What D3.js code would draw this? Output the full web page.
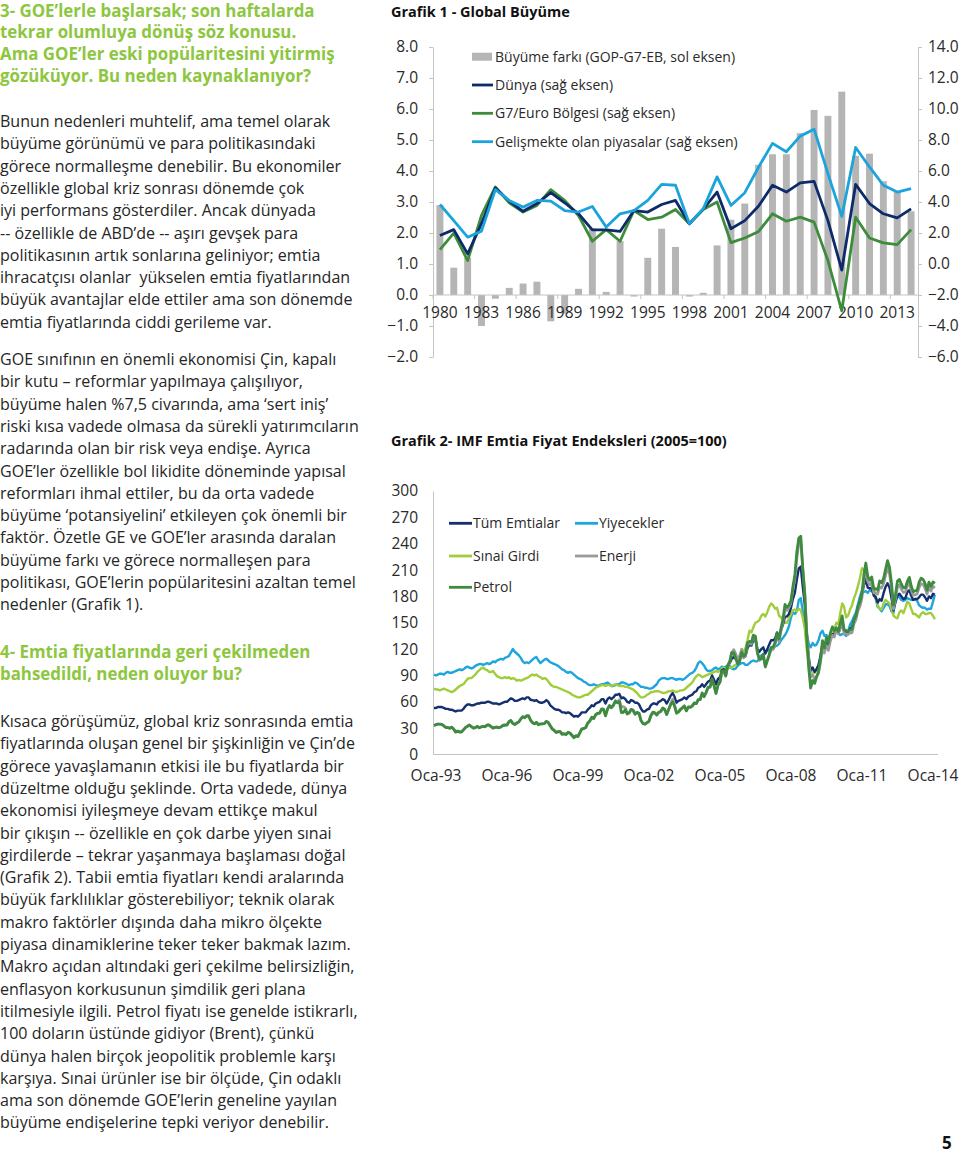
<!DOCTYPE html>
<html><head><meta charset="utf-8">
<script src="https://cdn.jsdelivr.net/npm/d3@7"></script>
<style>body{margin:0;background:#fff}svg{display:block}</style>
</head><body>
<svg id="page" width="960" height="1153"></svg>
<script>
// ---------------- DATA: Grafik 1 ----------------
const years = d3.range(1980, 2015);
const growthGap = [2.9, 0.88, 1.2, -1.0, -0.12, 0.23, 0.37, 0.43, -0.85, -0.6, 0.2, 2.15, 0.1, 1.74, -0.05, 1.2, 2.14, 1.55, -0.05, 0.07, 1.6, 2.43, 2.95, 4.2, 4.54, 4.54, 5.22, 5.97, 5.78, 6.56, 4.49, 4.56, 3.67, 3.34, 2.7];
const world = [1.84, 2.22, 0.65, 2.6, 4.9, 4.06, 3.4, 3.9, 4.6, 3.95, 3.24, 2.2, 2.2, 2.1, 3.45, 3.35, 3.84, 4.1, 2.6, 3.54, 4.64, 2.27, 2.8, 3.74, 5.08, 4.64, 5.23, 5.33, 2.8, -0.39, 5.14, 3.9, 3.24, 2.98, 3.56];
const g7euro = [0.93, 1.99, 0.22, 3.13, 4.97, 3.95, 3.35, 3.78, 4.8, 4.1, 3.13, 1.47, 2.22, 1.47, 3.45, 2.87, 3.02, 3.52, 2.6, 3.52, 4.0, 1.38, 1.68, 2.1, 3.24, 2.76, 3.02, 2.7, 0.22, -3.02, 3.02, 1.68, 1.36, 1.25, 2.22];
const emerging = [3.84, 2.8, 1.73, 2.12, 4.8, 4.1, 3.67, 4.1, 4.06, 3.45, 3.35, 3.71, 2.38, 3.24, 3.45, 4.1, 5.14, 5.08, 2.6, 3.56, 5.62, 3.78, 4.6, 6.26, 7.78, 7.24, 8.25, 8.7, 5.83, 3.07, 7.52, 6.26, 5.08, 4.64, 4.86];
const leftTicks = [-2, -1, 0, 1, 2, 3, 4, 5, 6, 7, 8];
const rightTicks = [-6, -4, -2, 0, 2, 4, 6, 8, 10, 12, 14];
const c1Legend = ["Büyüme farkı (GOP-G7-EB, sol eksen)", "Dünya (sağ eksen)", "G7/Euro Bölgesi (sağ eksen)", "Gelişmekte olan piyasalar (sağ eksen)"];

// ---------------- DATA: Grafik 2 (monthly, Oca-93 .. Mar-14) ----------------
const tumEmtialar = [
53,53,54,54,54,53,52,52,51,51,50,49,
50,50,50,52,55,57,57,56,56,57,58,58,
59,59,59,60,60,59,58,58,58,57,58,59,
60,60,62,64,63,61,61,62,63,64,63,65,
65,62,62,61,62,60,59,59,60,62,60,56,
54,52,51,51,50,48,48,47,48,47,45,43,
44,43,45,48,48,48,51,53,56,55,58,59,
60,63,63,58,63,65,63,65,68,68,69,64,
65,63,60,59,62,61,59,59,57,52,49,49,
51,52,56,58,58,57,60,61,63,62,58,62,
67,70,66,59,61,62,63,65,63,66,67,68,
71,72,76,77,80,77,80,83,84,90,85,80,
86,88,96,97,93,101,104,109,111,109,106,110,
116,111,112,121,125,124,130,131,120,117,120,122,
115,120,125,130,130,132,139,134,142,148,157,157,
160,167,177,184,199,212,214,191,171,137,111,96,
99,94,97,102,112,125,120,128,123,131,137,137,
141,138,143,150,141,139,139,143,145,153,158,167,
174,183,192,200,190,189,190,181,179,173,177,175,
184,191,195,190,178,164,173,181,183,180,177,178,
185,187,181,176,177,177,179,182,182,179,175,180,
178,183,182];
const yiyecekler = [
91,90,91,92,92,91,93,94,93,93,94,95,
96,97,96,97,99,100,99,98,99,101,102,103,
103,102,103,104,103,104,106,105,107,108,109,108,
110,111,112,116,120,117,115,113,110,106,104,105,
104,106,108,110,111,107,104,106,108,109,107,105,
104,103,102,101,99,97,96,94,93,94,93,91,
89,87,86,85,83,82,80,79,79,80,79,78,
79,80,80,81,82,80,78,78,79,80,80,82,
82,81,80,79,80,80,82,81,79,77,77,76,
76,75,75,76,78,80,84,86,87,87,86,86,
87,87,86,85,86,86,85,86,88,90,92,93,
95,99,104,106,104,101,97,95,95,96,98,99,
97,98,100,99,100,101,101,98,97,98,101,103,
104,104,102,102,104,106,107,106,106,109,113,114,
116,118,119,119,120,123,124,126,130,133,136,140,
146,156,162,160,163,176,178,163,154,138,126,122,
127,124,125,130,138,141,135,136,133,134,137,140,
141,138,136,137,137,135,140,148,152,157,162,171,
180,187,185,186,184,187,186,183,177,168,166,163,
167,171,171,169,163,161,180,181,179,176,175,176,
178,177,176,176,177,175,170,168,167,167,165,166,
166,174,182];
const sinaiGirdi = [
75,74,74,73,74,75,74,73,72,71,72,74,
76,78,79,80,83,86,87,87,89,91,94,96,
98,99,97,96,94,94,95,92,89,88,87,87,
88,87,88,86,87,86,84,85,84,85,86,87,
88,90,91,90,91,89,88,86,87,86,83,80,
78,77,77,76,75,74,73,72,71,70,68,67,
66,65,65,66,67,68,68,70,72,74,76,77,
78,79,79,78,79,79,78,79,80,79,78,78,
78,77,77,76,75,74,72,70,67,65,65,66,
68,69,71,71,72,72,72,71,70,70,71,72,
72,73,72,71,72,73,73,74,76,78,80,82,
86,89,91,90,88,89,90,91,92,93,94,95,
94,95,98,99,97,98,99,99,101,102,104,108,
115,118,121,130,141,139,145,150,151,153,158,160,
157,162,168,172,170,166,167,158,156,154,150,150,
155,160,164,165,163,166,164,156,143,120,104,96,
94,93,96,102,108,116,120,128,128,132,138,143,
150,148,160,172,168,156,158,165,170,178,184,192,
201,212,210,212,201,198,198,190,180,170,166,165,
172,176,174,172,166,158,156,155,162,164,161,167,
174,172,166,160,160,158,156,160,162,160,160,161,
161,158,154];
const enerji = [
33.0,34.3,34.6,34.4,34.2,32.8,31.0,30.9,30.1,31.3,29.2,26.2,
27.0,26.2,26.0,28.4,30.7,32.1,33.4,31.8,30.2,30.6,32.0,30.7,
31.5,32.0,31.6,33.5,33.4,31.8,30.3,31.0,31.2,30.7,31.6,33.5,
34.0,33.8,37.0,38.5,35.6,34.4,35.9,37.3,40.3,43.0,42.3,44.6,
44.5,39.2,36.5,35.2,36.7,34.3,35.0,35.2,35.5,37.9,36.6,33.0,
29.5,27.8,25.6,26.4,26.5,23.6,23.9,23.1,25.5,24.6,22.2,19.9,
21.6,20.9,24.6,28.8,29.4,30.5,35.2,37.6,41.8,40.6,44.8,46.5,
47.0,51.0,51.0,44.5,51.8,56.0,53.8,56.6,61.5,60.0,62.5,54.0,
54.5,53.0,47.5,48.0,51.0,49.5,45.5,47.0,46.0,38.5,35.5,34.5,
36.0,37.5,43.5,47.0,47.0,44.5,47.5,48.5,52.0,51.0,45.5,51.0,
58.0,63.0,57.5,47.5,49.0,52.0,53.5,55.5,50.0,54.0,53.5,56.0,
59.0,58.0,62.0,62.5,69.0,65.5,70.0,75.5,76.5,85.5,78.5,70.5,
79.0,82.0,93.5,94.5,89.0,100.5,105.0,116.0,119.5,115.0,108.0,112.5,
120.0,110.0,112.5,125.0,126.5,125.5,133.5,133.0,115.0,107.0,109.0,112.5,
99.5,106.5,112.0,119.5,119.5,125.0,134.0,128.5,140.5,150.5,166.0,164.0,
167.0,172.5,187.0,199.0,222.5,240.0,243.0,212.0,186.0,142.0,108.0,88.0,
91.0,85.0,88.5,92.5,104.0,122.5,115.5,124.5,118.5,129.0,136.0,133.5,
141.5,137.5,144.0,152.5,137.5,137.5,136.5,138.5,138.5,149.0,153.5,163.5,
168.5,178.0,197.0,211.5,196.5,193.0,196.0,184.0,184.5,182.5,191.0,189.5,
194.5,204.0,212.5,205.5,189.0,165.5,176.5,190.5,193.0,188.0,184.5,185.0,
191.5,196.0,187.0,181.0,182.0,182.5,190.0,194.5,193.5,189.0,182.5,190.5,
186.0,191.5,189.5];
const petrol = [
32.6,34.1,34.5,34.5,34.3,32.6,30.7,30.7,29.8,31.1,28.7,25.5,
26.4,25.5,25.5,28.1,30.6,32.2,33.6,31.7,30.0,30.6,32.1,30.4,
31.3,32.1,31.5,33.7,33.6,31.7,30.0,30.9,31.1,30.4,31.3,33.0,
33.2,33.4,37.3,38.8,35.4,34.1,35.8,37.1,40.5,43.1,41.8,43.7,
43.7,38.6,36.2,34.9,36.6,33.9,34.7,34.9,35.1,37.7,36.2,32.4,
28.9,27.2,24.9,25.9,26.1,22.9,23.4,22.5,25.3,24.2,21.6,19.1,
21.2,20.4,24.6,29.2,29.6,30.7,35.8,38.1,42.5,41.0,45.5,47.2,
47.2,51.9,51.7,43.9,51.4,55.5,53.2,55.9,60.7,58.9,60.2,47.8,
48.0,51.0,46.1,47.2,51.4,50.6,46.3,48.0,47.0,38.6,35.1,34.7,
36.4,38.1,44.4,48.2,47.6,45.2,48.2,49.3,53.0,51.5,45.4,51.2,
56.8,59.8,55.3,47.0,48.4,51.0,52.9,55.1,49.7,54.2,53.8,55.1,
58.5,57.9,62.4,62.6,70.1,66.0,70.9,76.7,77.0,86.2,78.0,69.4,
78.9,82.7,94.8,95.4,89.6,101.8,105.9,116.0,115.8,109.3,102.9,105.7,
116.2,111.9,114.2,127.3,128.8,128.0,135.9,134.6,116.4,108.5,108.9,114.2,
100.1,107.0,113.6,122.0,122.0,127.8,137.8,131.6,144.1,154.1,170.8,167.6,
170.0,175.1,190.8,204.5,230.2,246.5,248.5,212.2,181.8,134.2,98.4,75.7,
84.2,81.0,88.1,94.3,108.7,129.7,121.3,133.3,127.5,138.5,145.3,141.0,
144.3,140.0,148.6,157.8,141.7,141.3,139.8,142.1,142.6,153.1,158.0,168.7,
173.8,183.5,203.7,218.0,202.6,198.5,202.2,188.4,188.9,187.3,197.6,195.5,
200.7,211.2,220.8,213.1,195.1,170.0,181.4,197.4,199.3,193.8,189.7,189.7,
197.0,201.7,192.1,185.4,186.3,186.9,196.1,200.6,199.3,194.8,187.1,196.3,
191.4,196.4,194.9];
const c2Ticks = [0, 30, 60, 90, 120, 150, 180, 210, 240, 270, 300];
const c2LabelYears = [1993, 1996, 1999, 2002, 2005, 2008, 2011, 2014];

// ---------------- TEXT ----------------
const heading1 = ["3- GOE’lerle başlarsak; son haftalarda", "tekrar olumluya dönüş söz konusu.", "Ama GOE’ler eski popülaritesini yitirmiş", "gözüküyor. Bu neden kaynaklanıyor?"];
const para1 = ["Bunun nedenleri muhtelif, ama temel olarak", "büyüme görünümü ve para politikasındaki", "görece normalleşme denebilir. Bu ekonomiler", "özellikle global kriz sonrası dönemde çok", "iyi performans gösterdiler. Ancak dünyada", "-- özellikle de ABD’de -- aşırı gevşek para", "politikasının artık sonlarına geliniyor; emtia", "ihracatçısı olanlar  yükselen emtia fiyatlarından", "büyük avantajlar elde ettiler ama son dönemde", "emtia fiyatlarında ciddi gerileme var."];
const para2 = ["GOE sınıfının en önemli ekonomisi Çin, kapalı", "bir kutu – reformlar yapılmaya çalışılıyor,", "büyüme halen %7,5 civarında, ama ‘sert iniş’", "riski kısa vadede olmasa da sürekli yatırımcıların", "radarında olan bir risk veya endişe. Ayrıca", "GOE’ler özellikle bol likidite döneminde yapısal", "reformları ihmal ettiler, bu da orta vadede", "büyüme ‘potansiyelini’ etkileyen çok önemli bir", "faktör. Özetle GE ve GOE’ler arasında daralan", "büyüme farkı ve görece normalleşen para", "politikası, GOE’lerin popülaritesini azaltan temel", "nedenler (Grafik 1)."];
const heading2 = ["4- Emtia fiyatlarında geri çekilmeden", "bahsedildi, neden oluyor bu?"];
const para3 = ["Kısaca görüşümüz, global kriz sonrasında emtia", "fiyatlarında oluşan genel bir şişkinliğin ve Çin’de", "görece yavaşlamanın etkisi ile bu fiyatlarda bir", "düzeltme olduğu şeklinde. Orta vadede, dünya", "ekonomisi iyileşmeye devam ettikçe makul", "bir çıkışın -- özellikle en çok darbe yiyen sınai", "girdilerde – tekrar yaşanmaya başlaması doğal", "(Grafik 2). Tabii emtia fiyatları kendi aralarında", "büyük farklılıklar gösterebiliyor; teknik olarak", "makro faktörler dışında daha mikro ölçekte", "piyasa dinamiklerine teker teker bakmak lazım.", "Makro açıdan altındaki geri çekilme belirsizliğin,", "enflasyon korkusunun şimdilik geri plana", "itilmesiyle ilgili. Petrol fiyatı ise genelde istikrarlı,", "100 doların üstünde gidiyor (Brent), çünkü", "dünya halen birçok jeopolitik problemle karşı", "karşıya. Sınai ürünler ise bir ölçüde, Çin odaklı", "ama son dönemde GOE’lerin geneline yayılan", "büyüme endişelerine tepki veriyor denebilir."];

// ---------------- RENDER ----------------
const FONT = "'Open Sans', 'Noto Sans', sans-serif";
const svg = d3.select("#page").style("font-family", FONT);
const GREEN_HEAD = "#8dc63f";
const TXT = "#262626";

function fitSize(text, target, weight, base) {
  const t = svg.append("text").attr("font-size", base).attr("font-weight", weight).text(text);
  const w = t.node().getComputedTextLength();
  t.remove();
  return base * target / w;
}
function block(lines, x, y0, lh, size, weight, color) {
  svg.append("g").selectAll("text").data(lines).join("text")
    .attr("x", x).attr("y", (d, i) => y0 + i * lh)
    .attr("font-size", size).attr("font-weight", weight).attr("fill", color)
    .style("white-space", "pre").text(d => d);
}
const bodySize = fitSize(para2[10], 356, 400, 16);
const headSize = fitSize(heading1[2], 335, 700, 16);
block(heading1, 0, 16.5, 21.7, headSize, 700, GREEN_HEAD);
block(para1, 0, 127, 22.3, bodySize, 400, TXT);
block(para2, 0, 365, 22.3, bodySize, 400, TXT);
block(heading2, 0, 658, 22.3, headSize, 700, GREEN_HEAD);
block(para3, 0, 727, 22.3, bodySize, 400, TXT);

// Titles
const t1 = "Grafik 1 - Global Büyüme";
const t2 = "Grafik 2- IMF Emtia Fiyat Endeksleri (2005=100)";
const titleSize = fitSize(t2, 336, 700, 16);
svg.append("text").attr("x", 391).attr("y", 16.5).attr("font-size", titleSize).attr("font-weight", 700).attr("fill", "#111").text(t1);
svg.append("text").attr("x", 391).attr("y", 446).attr("font-size", titleSize).attr("font-weight", 700).attr("fill", "#111").text(t2);
svg.append("text").attr("x", 942).attr("y", 1149).attr("font-size", 17).attr("font-weight", 700).attr("fill", "#111").text("5");

// ---------------- CHART 1 ----------------
const AX = "#c4c4c4", LBL = "#2a2a2a";
const x1 = d3.scaleBand().domain(years).range([433, 918]).paddingInner(0.5).paddingOuter(0.25);
const yL = d3.scaleLinear().domain([-2, 8]).range([357, 47]);
const yR = d3.scaleLinear().domain([-6, 14]).range([357, 47]);
const g1 = svg.append("g");
const C_NAVY = "#0d2a6a", C_GREEN = "#3c8c3a", C_LBLUE = "#1ba3dc", C_BAR = "#b5b5b5";

g1.append("g").selectAll("rect").data(years).join("rect")
  .attr("x", d => x1(d)).attr("width", x1.bandwidth())
  .attr("y", (d, i) => yL(Math.max(0, growthGap[i])))
  .attr("height", (d, i) => Math.abs(yL(growthGap[i]) - yL(0)))
  .attr("fill", C_BAR);

const axL = g1.append("g").attr("transform", "translate(433,0)")
  .call(d3.axisLeft(yL).tickValues(leftTicks).tickFormat(d3.format(".1f")).tickSizeInner(4).tickSizeOuter(0).tickPadding(11));
const axR = g1.append("g").attr("transform", "translate(918,0)")
  .call(d3.axisRight(yR).tickValues(rightTicks).tickFormat(d3.format(".1f")).tickSizeInner(4).tickSizeOuter(0).tickPadding(6));
[axL, axR].forEach(a => {
  a.attr("color", AX);
  a.selectAll("text").attr("fill", LBL).attr("font-size", 15.5).style("font-family", FONT);
});
const y0 = yL(0);
g1.append("line").attr("x1", 433).attr("x2", 918).attr("y1", y0).attr("y2", y0).attr("stroke", AX);
const step = x1.step();
g1.append("g").selectAll("line").data(years.filter((d, i) => i % 3 === 0)).join("line")
  .attr("x1", d => x1(d) - step * 0.25).attr("x2", d => x1(d) - step * 0.25)
  .attr("y1", y0).attr("y2", y0 + 4).attr("stroke", AX);
g1.append("g").selectAll("text").data(years.filter((d, i) => i % 3 === 0)).join("text")
  .attr("x", d => x1(d) + x1.bandwidth() / 2).attr("y", y0 + 23)
  .attr("text-anchor", "middle").attr("font-size", 15.5).attr("fill", LBL).text(d => d);

const line1 = arr => d3.line().x((d, i) => x1(years[i]) + x1.bandwidth() / 2).y(d => yR(d))(arr);
[[g7euro, C_GREEN], [world, C_NAVY], [emerging, C_LBLUE]].forEach(([arr, c]) => {
  g1.append("path").attr("d", line1(arr)).attr("fill", "none").attr("stroke", c).attr("stroke-width", 2.8).attr("stroke-linejoin", "round");
});
const lg1 = g1.append("g");
const lgY = [56.7, 85, 113.3, 141.7];
lg1.append("rect").attr("x", 472).attr("y", lgY[0] - 4).attr("width", 20).attr("height", 8).attr("fill", C_BAR);
[C_NAVY, C_GREEN, C_LBLUE].forEach((c, i) => {
  lg1.append("line").attr("x1", 472).attr("x2", 493).attr("y1", lgY[i + 1]).attr("y2", lgY[i + 1]).attr("stroke", c).attr("stroke-width", 2.8);
});
lg1.selectAll("text").data(c1Legend).join("text")
  .attr("x", 495).attr("y", (d, i) => lgY[i] + 5).attr("font-size", 14).attr("fill", LBL).text(d => d);

// ---------------- CHART 2 ----------------
const dates = d3.range(petrol.length).map(i => new Date(Date.UTC(1993, i, 1)));
const x2 = d3.scaleUtc().domain([new Date(Date.UTC(1993, 0, 1)), new Date(Date.UTC(2014, 0, 1))]).range([434, 931]);
const y2 = d3.scaleLinear().domain([0, 300]).range([754.5, 491]);
const g2 = svg.append("g");
const ax2 = g2.append("g").attr("transform", "translate(433,0)")
  .call(d3.axisLeft(y2).tickValues(c2Ticks).tickFormat(d3.format("d")).tickSize(0).tickPadding(15));
ax2.attr("color", AX);
ax2.selectAll("text").attr("fill", LBL).attr("font-size", 15.5).style("font-family", FONT);
g2.append("line").attr("x1", 433).attr("x2", 938).attr("y1", y2(0)).attr("y2", y2(0)).attr("stroke", AX);
g2.append("g").selectAll("text").data(c2LabelYears).join("text")
  .attr("x", d => x2(new Date(Date.UTC(d, 0, 1))) + 2).attr("y", 781)
  .attr("text-anchor", "middle").attr("font-size", 15.5).attr("fill", LBL)
  .text(d => "Oca-" + String(d).slice(2));

const C2 = { all: "#14306e", food: "#1fa5de", ind: "#a2cd3a", en: "#9a9a9a", pet: "#3e8b3f" };
const line2 = d3.line().x((d, i) => x2(dates[i])).y(d => y2(d));
[[yiyecekler, C2.food, 2.4], [sinaiGirdi, C2.ind, 2.4], [tumEmtialar, C2.all, 2.4], [enerji, C2.en, 2.6], [petrol, C2.pet, 2.8]].forEach(([arr, c, w]) => {
  g2.append("path").attr("d", line2(arr)).attr("fill", "none").attr("stroke", c).attr("stroke-width", w).attr("stroke-linejoin", "round");
});
const lg2 = [
  ["Tüm Emtialar", C2.all, 449, 523.3], ["Yiyecekler", C2.food, 575, 523.3],
  ["Sınai Girdi", C2.ind, 449, 556], ["Enerji", C2.en, 575, 556],
  ["Petrol", C2.pet, 449, 587.3]];
lg2.forEach(([t, c, x, y]) => {
  g2.append("line").attr("x1", x).attr("x2", x + 23).attr("y1", y).attr("y2", y).attr("stroke", c).attr("stroke-width", 2.8);
  g2.append("text").attr("x", x + 24).attr("y", y + 5).attr("font-size", 14).attr("fill", LBL).text(t);
});
</script>
</body></html>
